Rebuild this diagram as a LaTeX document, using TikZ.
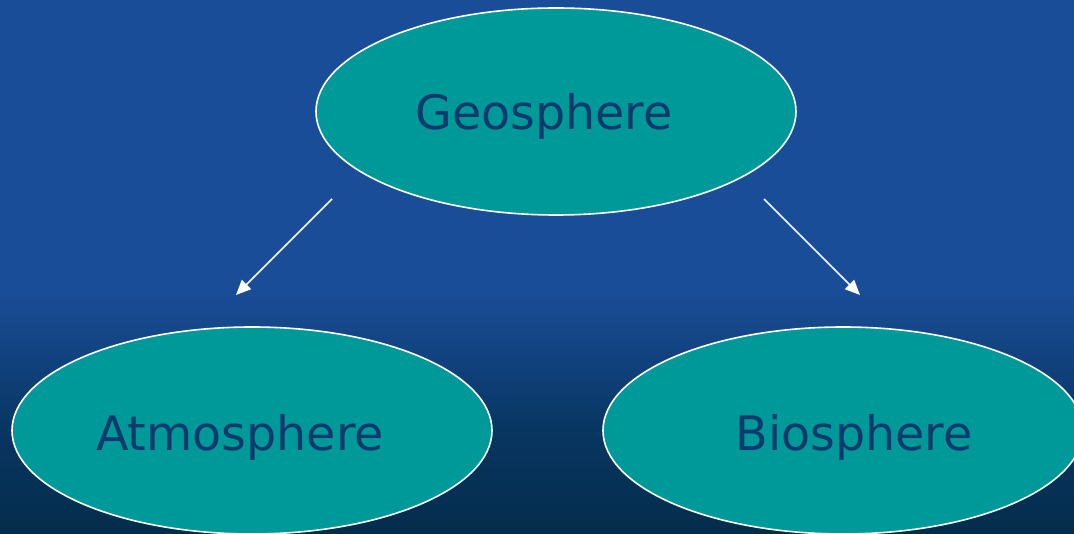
\documentclass[tikz,border=0pt]{standalone}
\usepackage{fontspec}
\setmainfont{DejaVu Sans}
\usetikzlibrary{shapes.geometric,arrows.meta}
\definecolor{bgtop}{RGB}{26,77,152}
\definecolor{bgmid}{RGB}{8,54,98}
\definecolor{bgbot}{RGB}{4,44,76}
\definecolor{teal}{RGB}{0,153,153}
\definecolor{txt}{RGB}{12,58,108}
\tikzset{
  sphere/.style={ellipse, draw=white, line width=1.6pt, fill=teal, minimum width=480pt, minimum height=207pt, inner sep=0pt},
  lbl/.style={text=txt, font=\fontsize{47.5}{52}\selectfont, anchor=base, inner sep=0pt},
  flow/.style={draw=white, line width=1.6pt, -{Triangle[length=15pt,width=13pt]}}
}
\begin{document}
\begin{tikzpicture}[x=1pt,y=-1pt]
\useasboundingbox (0,0) rectangle (1074,534);
\fill[bgtop] (0,0) rectangle (1074,290);
\shade[top color=bgtop, bottom color=bgmid] (0,289.5) rectangle (1074,430);
\shade[top color=bgmid, bottom color=bgbot] (0,429.5) rectangle (1074,534);
\node[sphere] (geo) at (556,111.5) {};
\node[sphere] (atm) at (252,430.5) {};
\node[sphere] (bio) at (843,430.5) {};
\node[lbl] (geot) at (544,130) {Geosphere};
\node[lbl] (atmt) at (240,450) {Atmosphere};
\node[lbl] (biot) at (854,450) {Biosphere};
\coordinate (gl) at (332,199);
\coordinate (al) at (236,295);
\coordinate (gr) at (764,199);
\coordinate (br) at (860,295);
\draw[flow] (gl) -- (al);
\draw[flow] (gr) -- (br);
\end{tikzpicture}
\end{document}
